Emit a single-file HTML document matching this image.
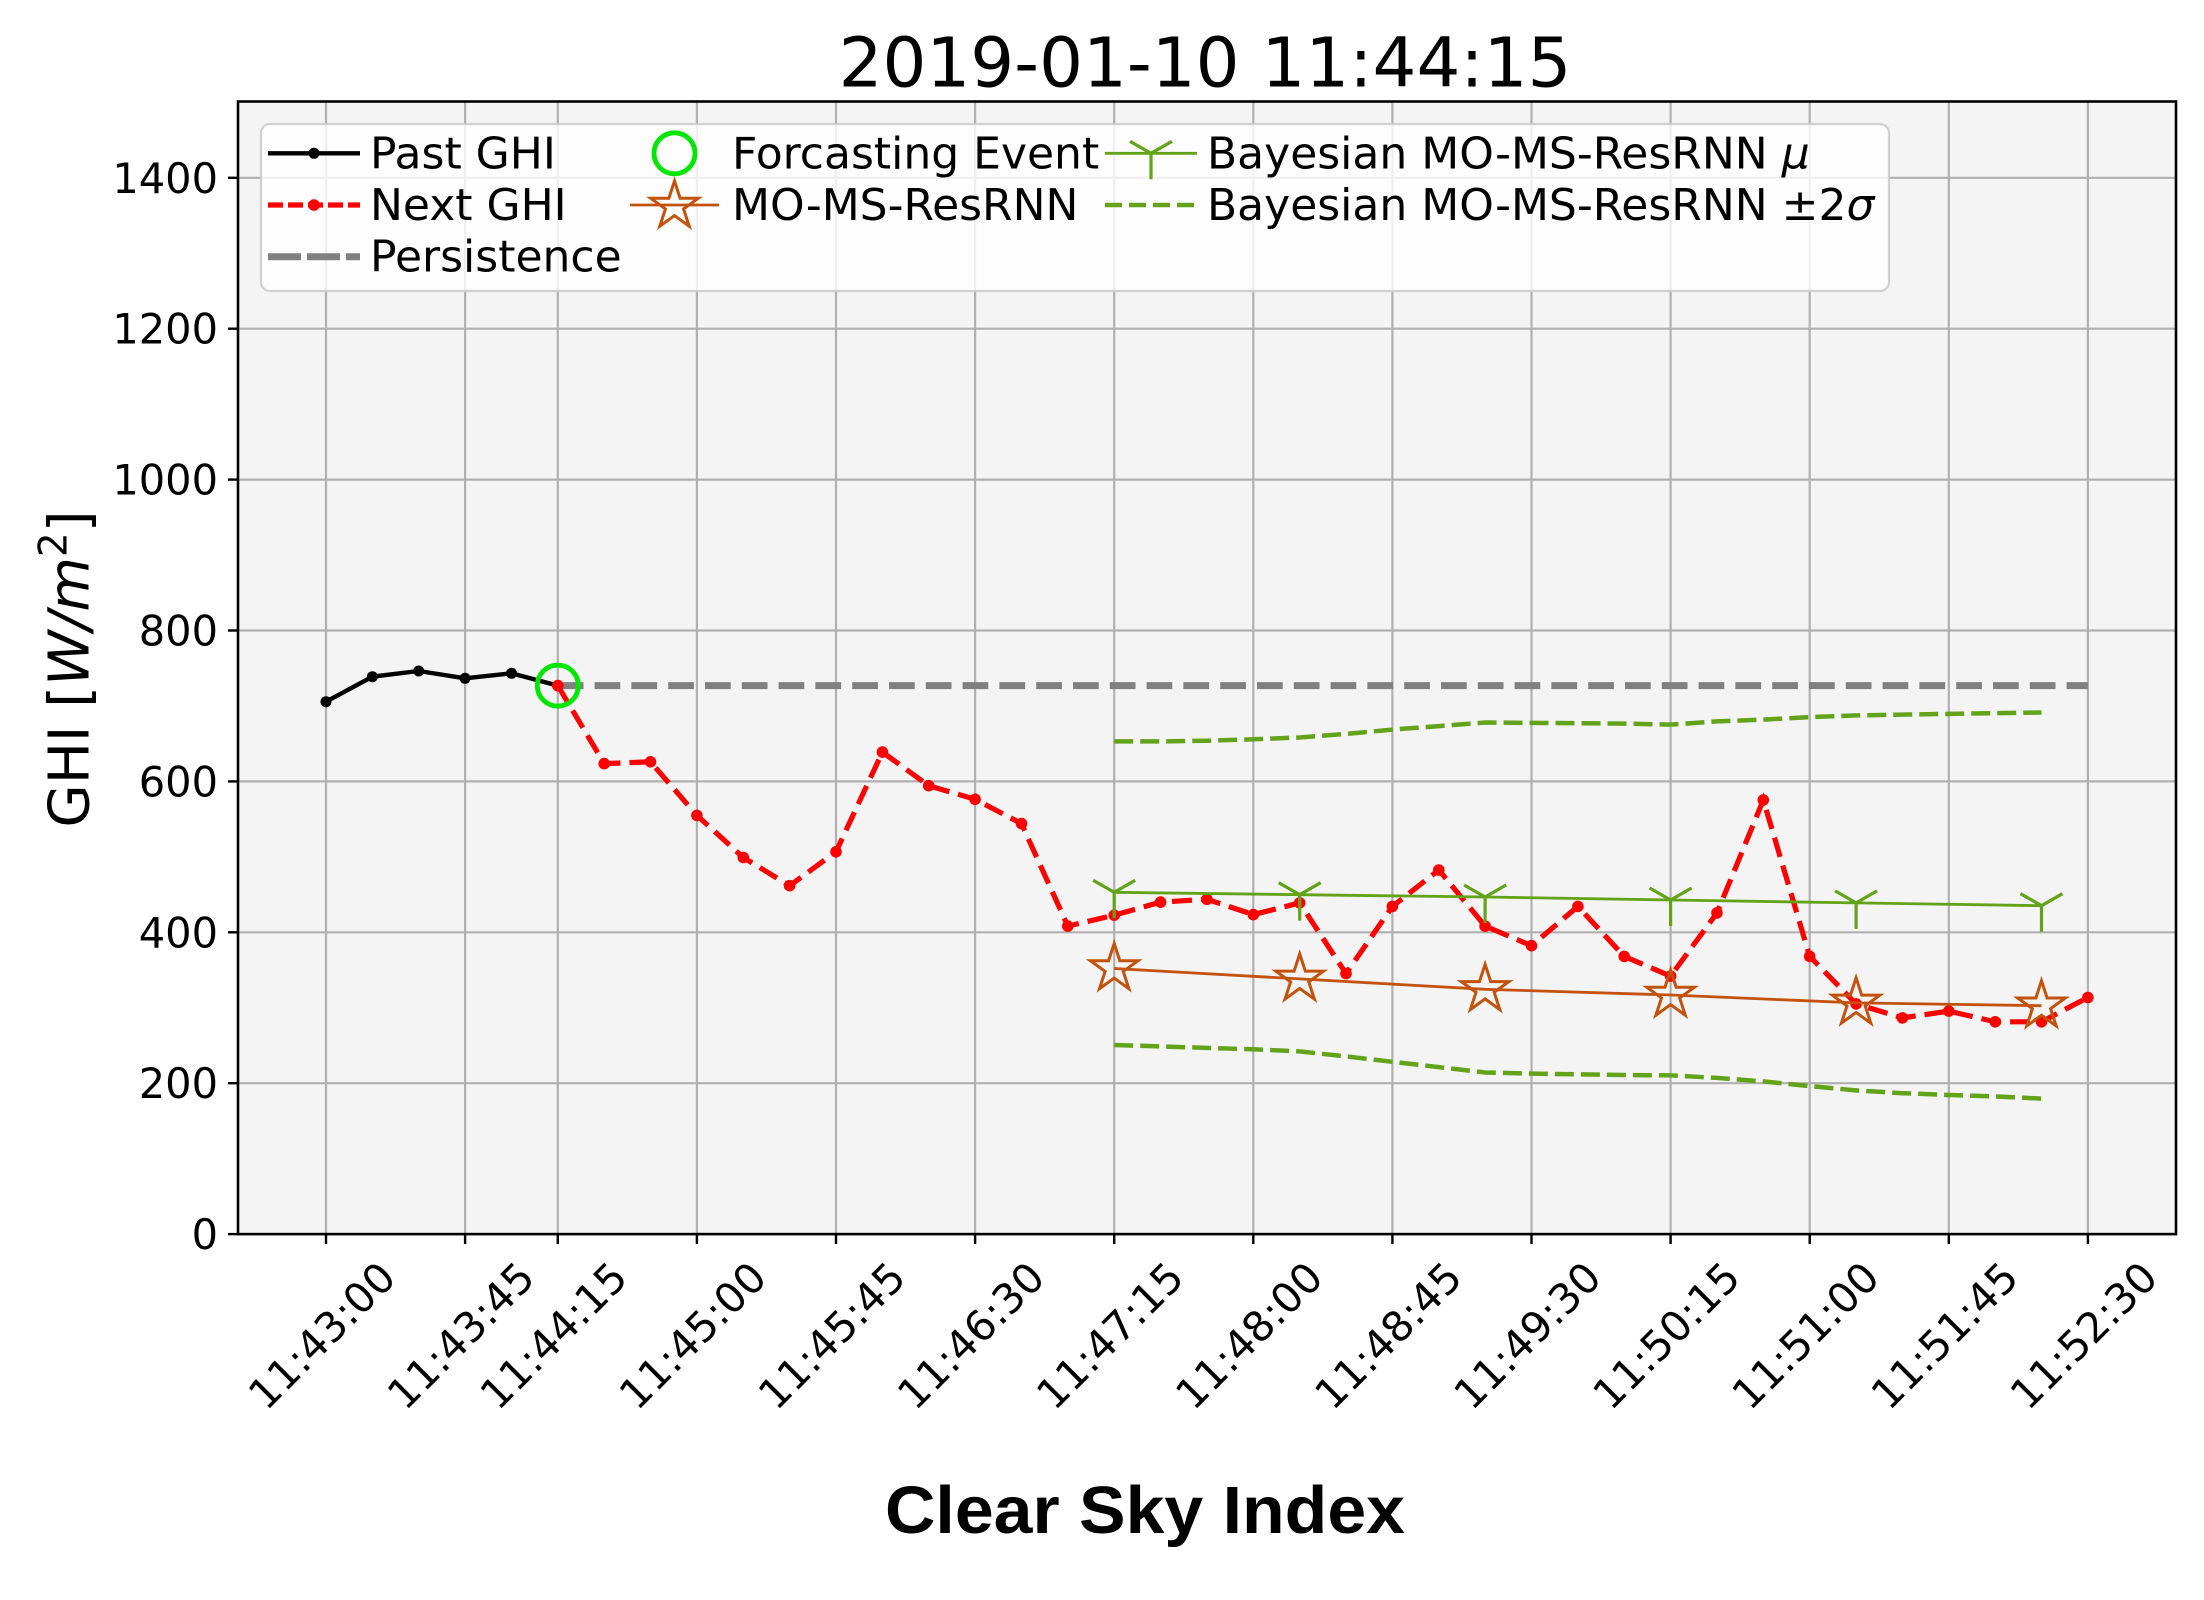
<!DOCTYPE html>
<html><head><meta charset="utf-8"><style>
html,body{margin:0;padding:0;background:#fff;}
svg{display:block;}
text{font-family:"DejaVu Sans","Liberation Sans",sans-serif;fill:#000;}
</style></head><body>
<svg width="2204" height="1600" viewBox="0 0 2204 1600" xmlns="http://www.w3.org/2000/svg">
<defs>
<path id="star" d="M0,-25 L5.61,-7.73 L23.78,-7.73 L9.08,2.95 L14.69,20.23 L0,9.55 L-14.69,20.23 L-9.08,2.95 L-23.78,-7.73 L-5.61,-7.73 Z" fill="none" stroke="#c2520c" stroke-width="3" stroke-linejoin="miter"/>
<g id="tri" stroke="#62a31a" stroke-width="3.2" fill="none"><line x1="0" y1="0" x2="0" y2="26"/><line x1="0" y1="0" x2="21" y2="-12"/><line x1="0" y1="0" x2="-21" y2="-12"/></g>
</defs>
<rect x="0" y="0" width="2204" height="1600" fill="#fff"/>
<!-- axes background -->
<rect x="238" y="101.5" width="1938" height="1132.6" fill="#f4f4f4"/>
<!-- grid -->
<g stroke="#b0b0b0" stroke-width="2.2">
<line x1="326.0" y1="101.5" x2="326.0" y2="1234.1"/>
<line x1="465.1" y1="101.5" x2="465.1" y2="1234.1"/>
<line x1="557.8" y1="101.5" x2="557.8" y2="1234.1"/>
<line x1="696.9" y1="101.5" x2="696.9" y2="1234.1"/>
<line x1="836.0" y1="101.5" x2="836.0" y2="1234.1"/>
<line x1="975.1" y1="101.5" x2="975.1" y2="1234.1"/>
<line x1="1114.2" y1="101.5" x2="1114.2" y2="1234.1"/>
<line x1="1253.3" y1="101.5" x2="1253.3" y2="1234.1"/>
<line x1="1392.4" y1="101.5" x2="1392.4" y2="1234.1"/>
<line x1="1531.5" y1="101.5" x2="1531.5" y2="1234.1"/>
<line x1="1670.6" y1="101.5" x2="1670.6" y2="1234.1"/>
<line x1="1809.7" y1="101.5" x2="1809.7" y2="1234.1"/>
<line x1="1948.8" y1="101.5" x2="1948.8" y2="1234.1"/>
<line x1="2087.9" y1="101.5" x2="2087.9" y2="1234.1"/>
<line x1="238" y1="1083.2" x2="2176" y2="1083.2"/>
<line x1="238" y1="932.3" x2="2176" y2="932.3"/>
<line x1="238" y1="781.4" x2="2176" y2="781.4"/>
<line x1="238" y1="630.5" x2="2176" y2="630.5"/>
<line x1="238" y1="479.6" x2="2176" y2="479.6"/>
<line x1="238" y1="328.7" x2="2176" y2="328.7"/>
<line x1="238" y1="177.8" x2="2176" y2="177.8"/>
</g>
<!-- bands -->
<polyline fill="none" stroke="#62a31a" stroke-width="4.5" stroke-dasharray="19 7" points="1114.2,741.4 1160.6,741.4 1206.9,740.7 1253.3,739.3 1299.7,737.5 1346.0,733.9 1392.4,729.6 1438.8,726.1 1485.1,722.5 1531.5,722.9 1577.9,723.2 1624.2,723.6 1670.6,724.6 1717.0,721.4 1763.3,719.6 1809.7,717.1 1856.1,715.4 1902.4,714.6 1948.8,713.9 1995.2,713.2 2041.5,712.5"/>
<polyline fill="none" stroke="#62a31a" stroke-width="4.5" stroke-dasharray="19 7" points="1114.2,1045.0 1160.6,1046.4 1206.9,1047.9 1253.3,1049.3 1299.7,1051.4 1346.0,1056.4 1392.4,1061.8 1438.8,1067.1 1485.1,1072.5 1531.5,1073.6 1577.9,1074.3 1624.2,1075.0 1670.6,1075.4 1717.0,1077.9 1763.3,1081.4 1809.7,1086.1 1856.1,1090.4 1902.4,1093.2 1948.8,1095.0 1995.2,1096.4 2041.5,1098.6"/>
<!-- persistence -->
<line x1="557.8" y1="685.6" x2="2087.9" y2="685.6" stroke="#808080" stroke-width="7" stroke-dasharray="25.7 11.1"/>
<!-- past GHI -->
<polyline fill="none" stroke="#000" stroke-width="4.4" stroke-linejoin="round" points="326.0,701.7 372.4,676.7 418.7,671.0 465.1,678.3 511.5,673.3 557.8,685.6"/>
<g fill="#000">
<circle cx="326.0" cy="701.7" r="5.5"/><circle cx="372.4" cy="676.7" r="5.5"/><circle cx="418.7" cy="671.0" r="5.5"/><circle cx="465.1" cy="678.3" r="5.5"/><circle cx="511.5" cy="673.3" r="5.5"/><circle cx="557.8" cy="685.6" r="5.5"/>
</g>
<!-- next GHI -->
<polyline fill="none" stroke="#ff0000" stroke-width="5.2" stroke-dasharray="20 9" points="557.8,685.6 604.2,763.6 650.5,761.8 696.9,815.4 743.3,857.5 789.6,885.7 836.0,851.8 882.4,752.1 928.7,785.7 975.1,799.3 1021.5,823.6 1067.8,926.1 1114.2,915.2 1160.6,902.1 1206.9,899.3 1253.3,914.6 1299.7,902.9 1346.0,973.6 1392.4,906.4 1438.8,870.0 1485.1,926.1 1531.5,945.7 1577.9,906.4 1624.2,956.4 1670.6,976.1 1717.0,912.9 1763.3,800.0 1809.7,956.4 1856.1,1003.9 1902.4,1017.9 1948.8,1011.1 1995.2,1021.8 2041.5,1021.8 2087.9,997.5"/>
<g fill="#ff0000">
<circle cx="557.8" cy="685.6" r="5.8"/><circle cx="604.2" cy="763.6" r="5.8"/><circle cx="650.5" cy="761.8" r="5.8"/><circle cx="696.9" cy="815.4" r="5.8"/><circle cx="743.3" cy="857.5" r="5.8"/><circle cx="789.6" cy="885.7" r="5.8"/><circle cx="836.0" cy="851.8" r="5.8"/><circle cx="882.4" cy="752.1" r="5.8"/><circle cx="928.7" cy="785.7" r="5.8"/><circle cx="975.1" cy="799.3" r="5.8"/><circle cx="1021.5" cy="823.6" r="5.8"/><circle cx="1067.8" cy="926.1" r="5.8"/><circle cx="1114.2" cy="915.2" r="5.8"/><circle cx="1160.6" cy="902.1" r="5.8"/><circle cx="1206.9" cy="899.3" r="5.8"/><circle cx="1253.3" cy="914.6" r="5.8"/><circle cx="1299.7" cy="902.9" r="5.8"/><circle cx="1346.0" cy="973.6" r="5.8"/><circle cx="1392.4" cy="906.4" r="5.8"/><circle cx="1438.8" cy="870.0" r="5.8"/><circle cx="1485.1" cy="926.1" r="5.8"/><circle cx="1531.5" cy="945.7" r="5.8"/><circle cx="1577.9" cy="906.4" r="5.8"/><circle cx="1624.2" cy="956.4" r="5.8"/><circle cx="1670.6" cy="976.1" r="5.8"/><circle cx="1717.0" cy="912.9" r="5.8"/><circle cx="1763.3" cy="800.0" r="5.8"/><circle cx="1809.7" cy="956.4" r="5.8"/><circle cx="1856.1" cy="1003.9" r="5.8"/><circle cx="1902.4" cy="1017.9" r="5.8"/><circle cx="1948.8" cy="1011.1" r="5.8"/><circle cx="1995.2" cy="1021.8" r="5.8"/><circle cx="2041.5" cy="1021.8" r="5.8"/><circle cx="2087.9" cy="997.5" r="5.8"/>
</g>
<!-- forecasting event -->
<circle cx="557.8" cy="685.6" r="20.5" fill="none" stroke="#00e600" stroke-width="4.8"/>
<!-- MO-MS-ResRNN -->
<polyline fill="none" stroke="#c2520c" stroke-width="2.8" points="1114.2,968.5 1299.7,978.9 1485.1,989.3 1670.6,995.0 1856.1,1002.9 2041.5,1005.7"/>
<use href="#star" x="1114.2" y="968.5"/><use href="#star" x="1299.7" y="978.9"/><use href="#star" x="1485.1" y="989.3"/><use href="#star" x="1670.6" y="995.0"/><use href="#star" x="1856.1" y="1002.9"/><use href="#star" x="2041.5" y="1005.7"/>
<!-- Bayesian mu -->
<polyline fill="none" stroke="#62a31a" stroke-width="2.8" points="1114.2,892.3 1299.7,894.7 1485.1,897.0 1670.6,900.0 1856.1,902.9 2041.5,905.7"/>
<use href="#tri" x="1114.2" y="892.3"/><use href="#tri" x="1299.7" y="894.7"/><use href="#tri" x="1485.1" y="897.0"/><use href="#tri" x="1670.6" y="900.0"/><use href="#tri" x="1856.1" y="902.9"/><use href="#tri" x="2041.5" y="905.7"/>
<!-- spines -->
<rect x="238" y="101.5" width="1938" height="1132.6" fill="none" stroke="#000" stroke-width="2.6"/>
<!-- ticks -->
<g stroke="#000" stroke-width="2.4">
<line x1="228" y1="1234.1" x2="238" y2="1234.1"/><line x1="228" y1="1083.2" x2="238" y2="1083.2"/><line x1="228" y1="932.3" x2="238" y2="932.3"/><line x1="228" y1="781.4" x2="238" y2="781.4"/><line x1="228" y1="630.5" x2="238" y2="630.5"/><line x1="228" y1="479.6" x2="238" y2="479.6"/><line x1="228" y1="328.7" x2="238" y2="328.7"/><line x1="228" y1="177.8" x2="238" y2="177.8"/>
<line x1="326.0" y1="1234" x2="326.0" y2="1244"/><line x1="465.1" y1="1234" x2="465.1" y2="1244"/><line x1="557.8" y1="1234" x2="557.8" y2="1244"/><line x1="696.9" y1="1234" x2="696.9" y2="1244"/><line x1="836.0" y1="1234" x2="836.0" y2="1244"/><line x1="975.1" y1="1234" x2="975.1" y2="1244"/><line x1="1114.2" y1="1234" x2="1114.2" y2="1244"/><line x1="1253.3" y1="1234" x2="1253.3" y2="1244"/><line x1="1392.4" y1="1234" x2="1392.4" y2="1244"/><line x1="1531.5" y1="1234" x2="1531.5" y2="1244"/><line x1="1670.6" y1="1234" x2="1670.6" y2="1244"/><line x1="1809.7" y1="1234" x2="1809.7" y2="1244"/><line x1="1948.8" y1="1234" x2="1948.8" y2="1244"/><line x1="2087.9" y1="1234" x2="2087.9" y2="1244"/>
</g>
<!-- y tick labels -->
<g font-size="41.5" text-anchor="end">
<text x="218" y="1249.1">0</text><text x="218" y="1098.2">200</text><text x="218" y="947.3">400</text><text x="218" y="796.4">600</text><text x="218" y="645.5">800</text><text x="218" y="494.6">1000</text><text x="218" y="343.7">1200</text><text x="218" y="192.8">1400</text>
</g>
<!-- x tick labels -->
<g font-size="41.5" text-anchor="end">
<text transform="translate(398,1280) rotate(-45)">11:43:00</text>
<text transform="translate(537.1,1280) rotate(-45)">11:43:45</text>
<text transform="translate(629.8,1280) rotate(-45)">11:44:15</text>
<text transform="translate(768.9,1280) rotate(-45)">11:45:00</text>
<text transform="translate(908,1280) rotate(-45)">11:45:45</text>
<text transform="translate(1047.1,1280) rotate(-45)">11:46:30</text>
<text transform="translate(1186.2,1280) rotate(-45)">11:47:15</text>
<text transform="translate(1325.3,1280) rotate(-45)">11:48:00</text>
<text transform="translate(1464.4,1280) rotate(-45)">11:48:45</text>
<text transform="translate(1603.5,1280) rotate(-45)">11:49:30</text>
<text transform="translate(1742.6,1280) rotate(-45)">11:50:15</text>
<text transform="translate(1881.7,1280) rotate(-45)">11:51:00</text>
<text transform="translate(2020.8,1280) rotate(-45)">11:51:45</text>
<text transform="translate(2159.9,1280) rotate(-45)">11:52:30</text>
</g>
<!-- title -->
<text x="1205" y="86.7" font-size="69" text-anchor="middle">2019-01-10 11:44:15</text>
<!-- x label -->
<text x="1145" y="1533" font-size="67" font-weight="bold" text-anchor="middle" textLength="520" lengthAdjust="spacingAndGlyphs" style="font-family:'Liberation Sans','DejaVu Sans',sans-serif">Clear Sky Index</text>
<!-- y label -->
<text transform="translate(88.3,669) rotate(-90)" font-size="56" text-anchor="middle">GHI [<tspan font-style="italic">W/m</tspan><tspan font-size="39" dy="-22">2</tspan><tspan dy="22">]</tspan></text>
<!-- legend -->
<rect x="261" y="124" width="1628" height="167" rx="9" ry="9" fill="#ffffff" fill-opacity="0.8" stroke="#cccccc" stroke-opacity="0.9" stroke-width="2.2"/>
<line x1="268" y1="153.3" x2="360" y2="153.3" stroke="#000" stroke-width="4.4"/>
<circle cx="314" cy="153.3" r="5.5" fill="#000"/>
<line x1="268" y1="205" x2="360" y2="205" stroke="#ff0000" stroke-width="5.2" stroke-dasharray="15 5"/>
<circle cx="314" cy="205" r="5.8" fill="#ff0000"/>
<line x1="268" y1="256.7" x2="360" y2="256.7" stroke="#808080" stroke-width="7" stroke-dasharray="33 6"/>
<circle cx="674.5" cy="153.3" r="20.5" fill="none" stroke="#00e600" stroke-width="4.8"/>
<line x1="630" y1="205" x2="719" y2="205" stroke="#c2520c" stroke-width="2.8"/>
<use href="#star" x="674.5" y="206"/>
<line x1="1105" y1="153.3" x2="1197" y2="153.3" stroke="#62a31a" stroke-width="2.8"/>
<use href="#tri" x="1151" y="153.3"/>
<line x1="1105" y1="205" x2="1197" y2="205" stroke="#62a31a" stroke-width="4.5" stroke-dasharray="17 7"/>
<g font-size="44">
<text x="370" y="168.3">Past GHI</text>
<text x="370" y="220">Next GHI</text>
<text x="370" y="271.7">Persistence</text>
<text x="732" y="168.3">Forcasting Event</text>
<text x="732" y="220">MO-MS-ResRNN</text>
<text x="1207" y="168.3">Bayesian MO-MS-ResRNN <tspan font-style="italic">μ</tspan></text>
<text x="1207" y="220">Bayesian MO-MS-ResRNN ±2<tspan font-style="italic">σ</tspan></text>
</g>
</svg>
</body></html>
